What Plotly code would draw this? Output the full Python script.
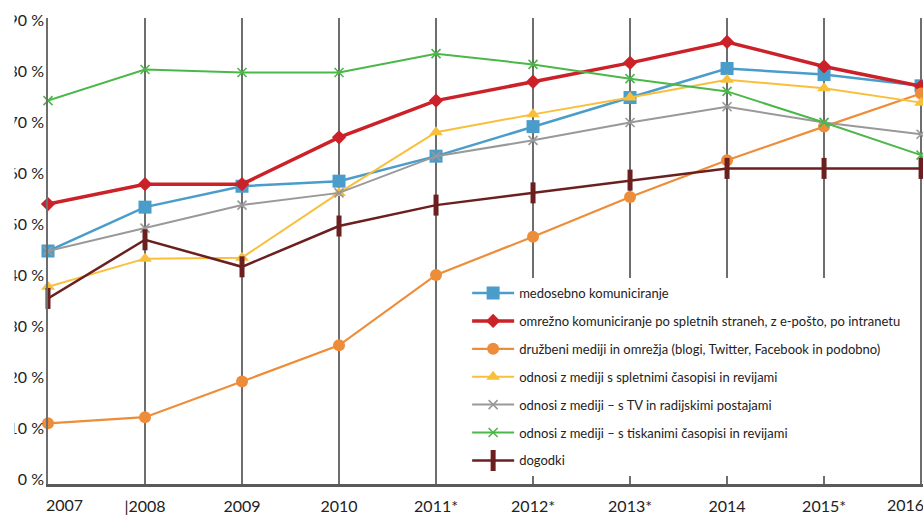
import plotly.graph_objects as go

years = ["2007", "|2008", "2009", "2010", "2011*", "2012*", "2013*", "2014", "2015*", "2016"]
y_ticks = [0, 10, 20, 30, 40, 50, 60, 70, 80, 90]
y_labels = ["0 %", "10 %", "20 %", "30 %", "40 %", "50 %", "60 %", "70 %", "80 %", "90 %"]

medosebno = [44.7, 53.3, 57.4, 58.4, 63.3, 69.1, 74.8, 80.5, 79.3, 77.1]
omrezno = [53.9, 57.8, 57.8, 67.0, 74.2, 77.9, 81.6, 85.7, 80.9, 77.0]
druzbeni = [10.9, 12.1, 19.1, 26.2, 40.0, 47.5, 55.3, 62.5, 69.1, 75.6]
spletni = [37.7, 43.2, 43.4, 56.1, 68.0, 71.5, 74.8, 78.3, 76.6, 73.8]
tv_radio = [44.7, 49.2, 53.7, 56.1, 63.3, 66.4, 69.9, 73.0, 69.9, 67.6]
tiskani = [74.2, 80.3, 79.7, 79.7, 83.4, 81.3, 78.5, 76.0, 69.9, 63.5]
dogodki = [35.4, 46.9, 41.6, 49.6, 53.7, 56.1, 58.6, 60.9, 60.9, 60.9]

names = [
    "medosebno komuniciranje",
    "omrežno komuniciranje po spletnih straneh, z e-pošto, po intranetu",
    "družbeni mediji in omrežja (blogi, Twitter, Facebook in podobno)",
    "odnosi z mediji s spletnimi časopisi in revijami",
    "odnosi z mediji – s TV in radijskimi postajami",
    "odnosi z mediji – s tiskanimi časopisi in revijami",
    "dogodki",
]

x = list(range(len(years)))

styles = [
    dict(values=medosebno, color="#4A9DCB", width=2.5,
         marker=dict(symbol="square", size=13)),
    dict(values=omrezno, color="#CB2128", width=3.5,
         marker=dict(symbol="diamond", size=11)),
    dict(values=druzbeni, color="#EE8D39", width=2.2,
         marker=dict(symbol="circle", size=12)),
    dict(values=spletni, color="#F8BF3B", width=2,
         marker=dict(symbol="triangle-up", size=12)),
    dict(values=tv_radio, color="#999999", width=2,
         marker=dict(symbol="x-thin", size=9, line=dict(width=1.6, color="#999999"))),
    dict(values=tiskani, color="#4CB749", width=2,
         marker=dict(symbol="x-thin", size=9, line=dict(width=1.6, color="#4CB749"))),
    dict(values=dogodki, color="#6B1F1F", width=2.5,
         marker=dict(symbol="line-ns", size=15, line=dict(width=5, color="#6B1F1F"))),
]

fig = go.Figure()
for i, (name, st) in enumerate(zip(names, styles)):
    m = dict(st["marker"])
    m.setdefault("color", st["color"])
    fig.add_trace(go.Scatter(
        x=x, y=st["values"], name=name, mode="lines+markers",
        line=dict(color=st["color"], width=st["width"]),
        marker=m, cliponaxis=False, legendgroup=f"g{i}",
    ))

L, R, T, B = 48, 0, 18, 29
PLOT_W = 923 - L - R
TICK_FONT = dict(size=16, color="#222222")

# first and last year labels sit pulled inward from their gridlines
inner_text = ["" if i in (0, len(years) - 1) else t for i, t in enumerate(years)]

fig.update_layout(
    width=923, height=515,
    margin=dict(l=L, r=R, t=T, b=B),
    paper_bgcolor="white", plot_bgcolor="white",
    font=dict(family="Lato, sans-serif", color="#222222"),
    showlegend=True,
    legend=dict(
        x=0.479, y=0.442, xanchor="left", yanchor="top",
        bgcolor="white", font=dict(size=13, color="#222222"),
        tracegroupgap=8, itemwidth=42,
    ),
    xaxis=dict(
        range=[0, 9.02], tickmode="array", tickvals=x, ticktext=inner_text,
        showgrid=True, gridcolor="#6E6E6E", gridwidth=1.5,
        showline=True, linecolor="#5A5A5A", linewidth=3,
        tickfont=TICK_FONT, ticks="", zeroline=False,
        ticklabelstandoff=6, ticklabeloverflow="allow",
    ),
    yaxis=dict(
        range=[-1, 90.4], tickmode="array", tickvals=y_ticks, ticktext=y_labels,
        showgrid=False, zeroline=False,
        showline=True, linecolor="#6E6E6E", linewidth=1.5,
        tickfont=TICK_FONT, ticks="",
        ticklabelstandoff=-1,
    ),
)

for idx, shift in ((0, 16), (len(years) - 1, -16)):
    fig.add_annotation(
        x=x[idx], y=0, xref="x", yref="paper", text=years[idx],
        showarrow=False, xanchor="center", yanchor="top",
        xshift=shift, yshift=-9, font=TICK_FONT,
    )

# the leftmost strip of the page is blank, trimming the first digit of the y labels
fig.add_shape(type="rect", xref="paper", yref="paper",
              x0=-L / PLOT_W, x1=(14.5 - L) / PLOT_W, y0=-0.1, y1=1.1,
              fillcolor="white", line=dict(width=0), layer="above")

fig.write_html("out.html")
